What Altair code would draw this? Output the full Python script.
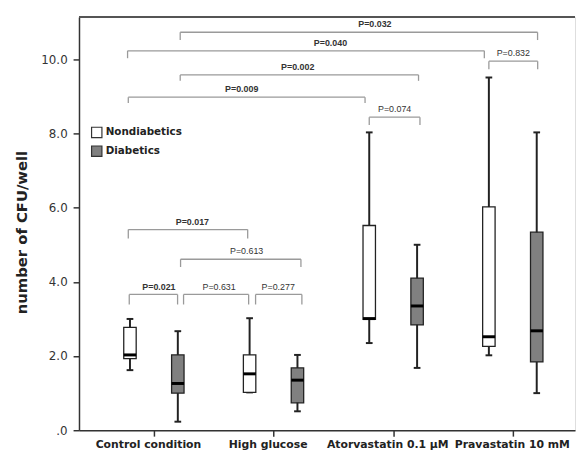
import json
import altair as alt
import pandas as pd

categories = ["Control condition", "High glucose", "Atorvastatin 0.1 μM", "Pravastatin 10 mM"]
groups = ["Nondiabetics", "Diabetics"]
group_offset = [-0.2, 0.2]

# Nondiabetics box statistics
nd_min = [1.62, 1.02, 2.35, 2.02]
nd_q1 = [1.93, 1.02, 2.99, 2.26]
nd_med = [2.03, 1.52, 3.01, 2.52]
nd_q3 = [2.77, 2.03, 5.52, 6.02]
nd_max = [3.00, 3.02, 8.03, 9.51]

# Diabetics box statistics
d_min = [0.23, 0.51, 1.68, 1.00]
d_q1 = [1.00, 0.74, 2.84, 1.84]
d_med = [1.26, 1.35, 3.35, 2.68]
d_q3 = [2.03, 1.68, 4.10, 5.34]
d_max = [2.67, 2.03, 5.00, 8.03]

# significance brackets
p_labels = ["P=0.032", "P=0.040", "P=0.832", "P=0.002", "P=0.009", "P=0.074",
            "P=0.017", "P=0.613", "P=0.021", "P=0.631", "P=0.277"]
p_bold = [True, True, False, True, True, False, True, False, True, False, False]
br_x1 = [0.22, -0.22, 2.80, 0.22, -0.214, 1.80, -0.214, 0.223, -0.206, 0.248, 0.85]
br_x2 = [3.207, 2.762, 3.208, 2.212, 1.765, 2.224, 0.784, 1.229, 0.198, 0.792, 1.237]
br_y = [10.73, 10.23, 9.95, 9.58, 8.98, 8.44, 5.41, 4.61, 3.66, 3.66, 3.66]
br_leg = [10.52, 10.03, 9.73, 9.42, 8.82, 8.23, 5.17, 4.40, 3.39, 3.39, 3.39]
lbl_x = [1.847, 1.476, 3.004, 1.202, 0.734, 2.012, 0.322, 0.775, 0.042, 0.545, 1.039]

# ---- build tables ----
stats = {
    "Nondiabetics": (nd_min, nd_q1, nd_med, nd_q3, nd_max),
    "Diabetics": (d_min, d_q1, d_med, d_q3, d_max),
}
half_box = 0.052
half_cap = 0.028
rows = []
for gi, g in enumerate(groups):
    mn, q1, md, q3, mx = stats[g]
    for ci, c in enumerate(categories):
        pos = ci + group_offset[gi]
        rows.append(dict(group=g, pos=pos, left=pos - half_box, right=pos + half_box,
                         capl=pos - half_cap, capr=pos + half_cap,
                         lo=mn[ci], q1=q1[ci], med=md[ci], q3=q3[ci], hi=mx[ci]))
boxes = pd.DataFrame(rows)
caps = pd.concat([
    boxes[["capl", "capr", "lo"]].rename(columns={"lo": "v"}),
    boxes[["capl", "capr", "hi"]].rename(columns={"hi": "v"}),
])

segs = []
for i in range(len(p_labels)):
    segs.append(dict(x=br_x1[i], x2=br_x2[i], y=br_y[i], y2=br_y[i]))
    segs.append(dict(x=br_x1[i], x2=br_x1[i], y=br_y[i], y2=br_leg[i]))
    segs.append(dict(x=br_x2[i], x2=br_x2[i], y=br_y[i], y2=br_leg[i]))
segs = pd.DataFrame(segs)
labels = pd.DataFrame(dict(x=lbl_x, y=br_y, text=p_labels, bold=p_bold))

# ---- scales & axes ----
W, H = 503, 419
x_scale = alt.Scale(domain=[-0.626, 3.52], nice=False, zero=False)
y_scale = alt.Scale(domain=[0, 11.14], nice=False, zero=True)
cat_js = json.dumps(categories, ensure_ascii=False)

x_axis = alt.Axis(
    values=[0, 1, 2, 3], labelExpr=f"{cat_js}[datum.value]", title=None, grid=False,
    tickSize=6, tickWidth=1.5, tickColor="#333", domainColor="#333", domainWidth=1.5,
    labelFont="DejaVu Sans", labelFontWeight="bold", labelFontSize=11, labelColor="#222",
    labelPadding=3, labelFlush=False, labelOverlap=False,
    labelOffset={"condition": {"test": "datum.value == 3", "value": -1}, "value": -6},
)
y_axis = alt.Axis(
    values=[0, 2, 4, 6, 8, 10],
    labelExpr="datum.value == 0 ? '.0' : format(datum.value, '.1f')",
    title="number of CFU/well", titleFont="DejaVu Sans", titleFontWeight="bold",
    titleFontSize=15, titleColor="#222", titleX=-50, titleY=218,
    grid=False, tickSize=6, tickWidth=1.5, tickColor="#333", domainColor="#333",
    domainWidth=1.5, labelFont="DejaVu Sans", labelFontSize=12, labelColor="#333",
    labelPadding=6,
)


def X(f):
    return alt.X(f"{f}:Q", scale=x_scale, axis=x_axis)


def Y(f):
    return alt.Y(f"{f}:Q", scale=y_scale, axis=y_axis)


bracket_layer = alt.Chart(segs).mark_rule(color="#9a9a9a", strokeWidth=1.3).encode(
    x=X("x"), x2="x2", y=Y("y"), y2="y2")

whisker = alt.Chart(boxes).mark_rule(color="#222", strokeWidth=2).encode(
    x=X("pos"), y=Y("lo"), y2="hi")

cap_layer = alt.Chart(caps).mark_rule(color="#222", strokeWidth=2).encode(
    x=X("capl"), x2="capr", y=Y("v"))

box_layer = alt.Chart(boxes).mark_rect(stroke="#222", strokeWidth=1.3).encode(
    x=X("left"), x2="right", y=Y("q1"), y2="q3",
    fill=alt.Fill("group:N", scale=alt.Scale(domain=groups, range=["#ffffff", "#808080"]),
                  legend=alt.Legend(orient="none", legendX=12, legendY=111, title=None,
                                    symbolType="square", symbolSize=110,
                                    symbolStrokeColor="#333", symbolStrokeWidth=1.2,
                                    labelFont="DejaVu Sans", labelFontWeight="bold",
                                    labelFontSize=10.5, labelColor="#222", labelOffset=3,
                                    rowPadding=3, padding=0)))

median_layer = alt.Chart(boxes).mark_rule(color="#000", strokeWidth=3).encode(
    x=X("left"), x2="right", y=Y("med"))

lab_common = dict(font="Liberation Sans", fontSize=9, color="#333", baseline="middle",
                  align="center", dy=-8)
bold_labels = alt.Chart(labels).transform_filter("datum.bold").mark_text(
    fontWeight="bold", **lab_common).encode(x=X("x"), y=Y("y"), text="text:N")
plain_labels = alt.Chart(labels).transform_filter("!datum.bold").mark_text(
    fontWeight="normal", **lab_common).encode(x=X("x"), y=Y("y"), text="text:N")

top_border = alt.Chart(pd.DataFrame({"a": [0]})).mark_rule(color="#555", strokeWidth=2).encode(
    x=alt.value(0), x2=alt.value(W), y=alt.value(0))

chart = alt.layer(
    bracket_layer, whisker, cap_layer, box_layer, median_layer,
    bold_labels, plain_labels, top_border,
).properties(
    width=W, height=H, autosize="none",
    padding={"left": 72, "top": 6, "right": 1, "bottom": 25},
).configure_view(stroke=None).configure(background="white")

chart.save("out.html", embed_options={"renderer": "svg", "actions": False})
